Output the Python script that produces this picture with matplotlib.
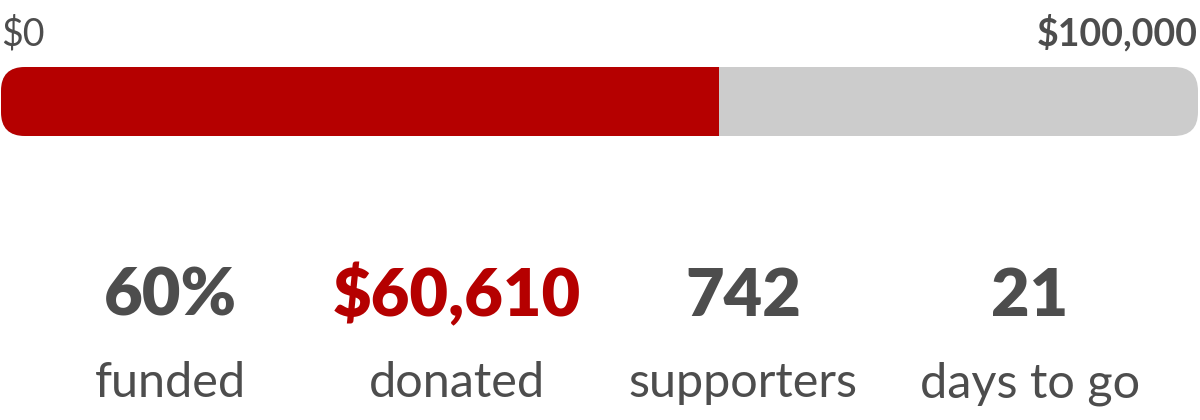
import matplotlib
matplotlib.use("Agg")
import matplotlib.pyplot as plt
from matplotlib.patches import FancyBboxPatch, Rectangle

# data
goal = 100000
donated = 60610
funded_pct = 60
stat_values = ["60%", "$60,610", "742", "21"]
stat_labels = ["funded", "donated", "supporters", "days to go"]
stat_colors = ["#4d4d4d", "#b50000", "#4d4d4d", "#4d4d4d"]

RED = "#b50000"
GREY = "#cccccc"
TEXT = "#4d4d4d"

plt.rcParams['font.family'] = ['Lato', 'DejaVu Sans']

W, H = 1200, 420
fig = plt.figure(figsize=(W / 100, H / 100), dpi=100)
ax = fig.add_axes([0, 0, 1, 1])

# x in dollars, y in pixels from bottom
bar_left_px, bar_right_px = 1, 1198
units_per_px = goal / (bar_right_px - bar_left_px)
ax.set_xlim(-bar_left_px * units_per_px, goal + (W - bar_right_px) * units_per_px)
ax.set_ylim(0, H)
ax.axis("off")

bar_bottom = H - 136
bar_height = 69
radius_px = 24

def rounded_bar(color, zorder):
    return FancyBboxPatch(
        (0, bar_bottom), goal, bar_height,
        boxstyle=f"round,pad=0,rounding_size={radius_px * units_per_px}",
        mutation_aspect=1 / units_per_px,
        facecolor=color, edgecolor="none", zorder=zorder,
    )

ax.add_patch(rounded_bar(GREY, 1))
red = rounded_bar(RED, 2)
ax.add_patch(red)
clip = Rectangle((0, bar_bottom - 5), goal * funded_pct / 100, bar_height + 10,
                 transform=ax.transData)
red.set_clip_path(clip)

# scale labels
ax.text(0, H - 45, "$0", ha="left", va="baseline", fontsize=27,
        color=TEXT, fontweight="normal")
ax.text(goal, H - 45, "${:,}".format(goal), ha="right", va="baseline",
        fontsize=27, color=TEXT, fontweight="bold")

# stats row
col_centers_px = [170, 457, 743, 1030]
for cx, val, lab, col in zip(col_centers_px, stat_values, stat_labels, stat_colors):
    x = (cx - bar_left_px) * units_per_px
    ax.text(x, H - 316, val, ha="center", va="baseline", fontsize=48,
            fontweight="heavy", color=col)
    ax.text(x, H - 397, lab, ha="center", va="baseline", fontsize=35,
            fontweight="normal", color=TEXT)

fig.savefig("out.png", dpi=100, facecolor="white")
